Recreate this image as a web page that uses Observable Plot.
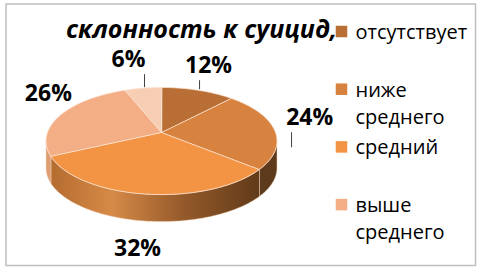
<!DOCTYPE html>
<html><head><meta charset="utf-8">
<script src="https://cdn.jsdelivr.net/npm/d3@7"></script>
<script src="https://cdn.jsdelivr.net/npm/@observablehq/plot@0.6"></script>
<style>html,body{margin:0;padding:0;background:#fff;} svg{display:block}</style>
</head><body><div id="chart"></div>
<script>
// ---- data ----
const title = "склонность к суицид,";
const categories = ["отсутствует", "ниже среднего", "средний", "выше среднего", ""];
const values = [12, 24, 32, 26, 6];
const percentLabels = ["12%", "24%", "32%", "26%", "6%"];
const legendCategories = ["отсутствует", "ниже среднего", "средний", "выше среднего"];
const legendLines = [["отсутствует"], ["ниже", "среднего"], ["средний"], ["выше", "среднего"]];

// ---- styles / layout ----
const palette = ["#B86E34", "#D7823F", "#F39444", "#F4AE86", "#F7CDB4"];
const sideFill = [null, "#5C3A1B", "url(#side32)", "#DE9E72", null];
const W = 481, H = 271;
const cx = 161, cy = 132, Rx = 114, Ry = 52.2, K = 0.159, depth = 27;
// label offsets from rim point at slice mid-angle (text centre, leader line)
const labelLayout = [
  {dx: 10.5, dy: -25, lead: [1.5, -1, 1.5, -10]},
  {dx: 35.5, dy: -12, lead: [17.4, 3, 17.4, 18]},
  {dx: -7, dy: 54.5, lead: null},
  {dx: -13, dy: -21, lead: null},
  {dx: -14.5, dy: -28.5, lead: [1.5, -1, 1.5, -14]}
];
const font = "'Open Sans', 'Noto Sans', sans-serif";

function proj(deg, drop = 0) {
  const t = deg * Math.PI / 180;
  const x = Math.sin(t), z = -Math.cos(t);
  const p = 1 / (1 - K * z);
  return [cx + Rx * x * p, cy + Ry * z * p + drop];
}
function arc(a0, a1, drop = 0) {
  const n = Math.max(2, Math.ceil(Math.abs(a1 - a0)));
  const pts = [];
  for (let j = 0; j <= n; j++) pts.push(proj(a0 + (a1 - a0) * j / n, drop));
  return pts;
}

const total = d3.sum(values);
let acc = 0;
const slices = values.map((v, i) => {
  const a0 = acc / total * 360; acc += v;
  const a1 = acc / total * 360;
  return {i, a0, a1, mid: (a0 + a1) / 2};
});

const thetaR = Math.acos(-K) * 180 / Math.PI;     // right silhouette
const thetaL = 360 - thetaR;                      // left silhouette

const marks = [];
marks.push(Plot.frame({stroke: "#BFBFBF", strokeWidth: 1.5, insetLeft: 5.5, insetTop: 3.5, insetRight: 6, insetBottom: 6}));

// sides
for (const s of slices) {
  const s0 = Math.max(s.a0, thetaR), s1 = Math.min(s.a1, thetaL);
  if (s0 >= s1 || !sideFill[s.i]) continue;
  const pts = arc(s0, s1).concat(arc(s1, s0, depth)).map(([x, y]) => ({x, y}));
  marks.push(Plot.line(pts, {x: "x", y: "y", curve: "linear-closed", fill: sideFill[s.i], stroke: "#F3D2B8", strokeWidth: 0.6, strokeOpacity: 0.8}));
}
// tops
for (const s of slices) {
  const pts = [[cx, cy]].concat(arc(s.a0, s.a1)).map(([x, y]) => ({x, y}));
  marks.push(Plot.line(pts, {x: "x", y: "y", curve: "linear-closed", fill: palette[s.i], stroke: "#FBE3D2", strokeWidth: 0.8}));
}
// labels
const labelData = slices.map(s => {
  const [rx, ry] = proj(s.mid);
  const L = labelLayout[s.i];
  return {text: percentLabels[s.i], x: rx + L.dx, y: ry + L.dy, lead: L.lead ? {x1: rx + L.lead[0], y1: ry + L.lead[1], x2: rx + L.lead[2], y2: ry + L.lead[3]} : null};
});
marks.push(Plot.link(labelData.filter(d => d.lead).map(d => d.lead), {x1: "x1", y1: "y1", x2: "x2", y2: "y2", stroke: "#404040", strokeWidth: 1}));
marks.push(Plot.text(labelData, {x: "x", y: "y", text: "text", fontSize: 23, fontWeight: "bold", fill: "#000", fontFamily: font}));

// title
marks.push(Plot.text([title], {x: 201, y: 29.5, text: d => d, fontSize: 25, fontWeight: "bold", fontStyle: "italic", fill: "#000", fontFamily: font}));

// legend
const legendStep = 57.7, legendTop = 31;
const legendItems = legendCategories.map((c, i) => ({c, i, y: legendTop + i * legendStep}));
marks.push(Plot.dot(legendItems, {x: 341, y: "y", symbol: "square", r: 6.5, fill: (d) => palette[d.i], stroke: null}));
const legendText = legendItems.flatMap(d => legendLines[d.i].map((t, j) => ({t, y: d.y + 1 + j * 27})));
marks.push(Plot.text(legendText, {x: 355, y: "y", text: "t", textAnchor: "start", fontSize: 20, fill: "#000", fontFamily: font}));

const svg = Plot.plot({
  width: W, height: H,
  margin: 0,
  x: {domain: [0, W], range: [0, W], axis: null},
  y: {domain: [0, H], range: [0, H], axis: null},
  style: {fontFamily: font, background: "#fff", overflow: "visible"},
  marks
});
const defs = d3.create("svg:defs");
const g = defs.append("linearGradient").attr("id", "side32").attr("gradientUnits", "userSpaceOnUse")
  .attr("x1", cx - Rx).attr("x2", cx + Rx).attr("y1", 0).attr("y2", 0);
[[0, "#B26A2E"], [0.28, "#D68A47"], [0.6, "#94592A"], [1, "#563415"]].forEach(([o, c]) => g.append("stop").attr("offset", o).attr("stop-color", c));
svg.insertBefore(defs.node(), svg.firstChild);
document.getElementById("chart").appendChild(svg);
</script>
</body></html>
